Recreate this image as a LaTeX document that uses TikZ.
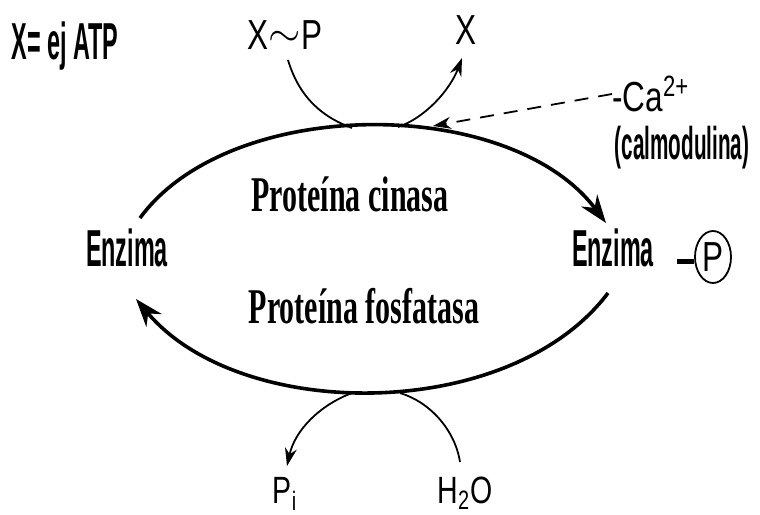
\documentclass[tikz,border=0pt]{standalone}
\usepackage{fontspec}
\usetikzlibrary{arrows.meta,shapes.geometric}
\newfontfamily\condfont{Liberation Sans}[FakeStretch=0.45]
\newfontfamily\thinfont{Liberation Sans}[FakeStretch=0.75]
\newfontfamily\slabfont{Liberation Serif}[FakeStretch=0.6]
\tikzset{
  cond/.style={inner sep=0pt,font=\condfont\bfseries\fontsize{26}{28}\selectfont},
  thin/.style={inner sep=0pt,font=\thinfont\fontsize{21}{23}\selectfont},
  slab/.style={inner sep=0pt,font=\slabfont\bfseries\fontsize{25}{27}\selectfont},
  mainarc/.style={line width=1.8pt,-{Stealth[length=14pt,width=10pt]}},
  sidearc/.style={line width=0.9pt},
  sidearrow/.style={line width=0.9pt,-{Stealth[length=9pt,width=6pt]}},
  dasharrow/.style={line width=0.9pt,dash pattern=on 7pt off 5pt,-{Stealth[length=9pt,width=6pt]}}
}
\begin{document}
\begin{tikzpicture}[x=0.5pt,y=-0.5pt]
\useasboundingbox (0,0) rectangle (760,514);
% labels
\node[cond] (xatp) at (65,46) {X= ej ATP};
\node[thin] (xp) at (285,35) {X\raisebox{0.15ex}{$\sim$}P};
\node[thin] (x) at (466,30) {X};
\node[thin,anchor=west] (ca) at (612,94) {-Ca\textsuperscript{2+}};
\node[cond,font=\condfont\bfseries\fontsize{23}{25}\selectfont] (calm) at (682,148) {(calmodulina)};
\node[cond] (enzL) at (127,248) {Enzima};
\node[cond] (enzR) at (613,248) {Enzima};
\node[draw,ellipse,line width=0.9pt,inner sep=0pt,minimum width=18pt,minimum height=26pt,thin] (p) at (713,257) {P};
\node[slab] (cin) at (350,194) {Proteína cinasa};
\node[slab] (fos) at (364,306) {Proteína fosfatasa};
\node[thin,font=\thinfont\fontsize{19}{21}\selectfont,anchor=base] (pi) at (285,503) {P\textsubscript{i}};
\node[thin,font=\thinfont\fontsize{19}{21}\selectfont,anchor=base] (h2o) at (465,503) {H\textsubscript{2}O};
% coordinates
\coordinate (tl) at (140,218);
\coordinate (tr) at (606,223);
\coordinate (br) at (608,293);
\coordinate (bl) at (136,299);
\coordinate (tin) at (352,128);
\coordinate (tout) at (398,127);
\coordinate (bout) at (352,393);
\coordinate (bin) at (400,393);
\coordinate (xpstart) at (288,60);
\coordinate (xend) at (462,58);
\coordinate (piend) at (287,466);
\coordinate (h2ostart) at (460,462);
\coordinate (catip) at (433,126);
\coordinate (bondL) at (677,261);
% main arcs
\draw[mainarc] (tl) .. controls (230,95) and (510,95) .. (tr);
\draw[mainarc] (br) .. controls (510,423) and (240,423) .. (bl);
% side arcs
\draw[sidearc] (xpstart) .. controls (300,100) and (325,118) .. (tin);
\draw[sidearrow] (tout) .. controls (425,118) and (450,90) .. (xend);
\draw[sidearrow] (bout) .. controls (320,405) and (295,430) .. (piend);
\draw[sidearc] (bin) .. controls (430,402) and (455,430) .. (h2ostart);
% calcium
\draw[dasharrow] (ca.west) -- (catip);
% phosphate bond
\draw[line width=2.5pt] (bondL) -- (p.west |- bondL);
\end{tikzpicture}
\end{document}
